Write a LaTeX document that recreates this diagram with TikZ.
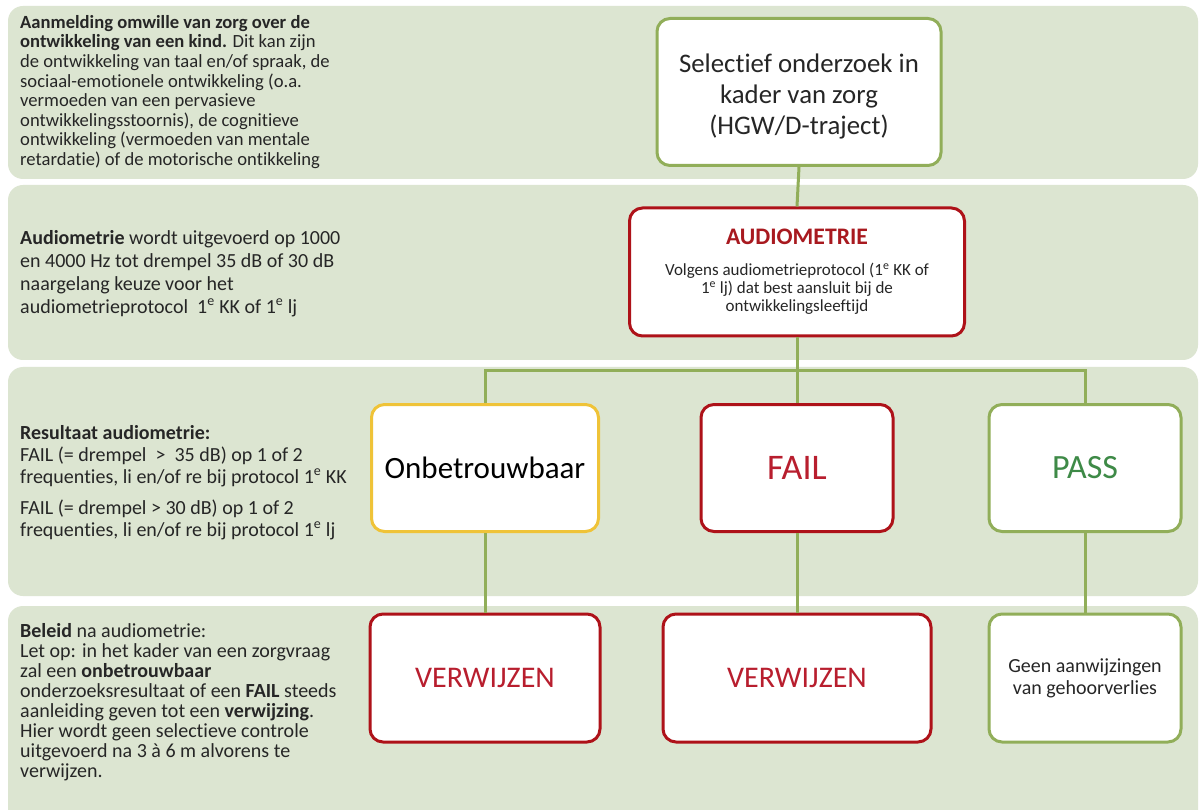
\documentclass[tikz,border=0pt]{standalone}
\usepackage{fontspec}
\setmainfont{Carlito}[Ligatures=NoCommon]
\definecolor{bandfill}{HTML}{DCE5D1}
\definecolor{olive}{HTML}{91AE59}
\definecolor{boxred}{HTML}{AE1219}
\definecolor{boxyellow}{HTML}{EFC338}
\definecolor{titlered}{HTML}{A8191F}
\definecolor{failred}{HTML}{B81E2E}
\definecolor{passgreen}{HTML}{3E8A47}
\definecolor{bodytext}{HTML}{262626}
\tikzset{
  band/.style={fill=bandfill, draw=none, rounded corners=15pt},
  note/.style={anchor=north west, align=left, inner sep=0pt, text=bodytext},
  stepbox/.style={draw, line width=3pt, fill=white, rounded corners=13pt,
                  align=center, inner sep=0pt, text=bodytext},
  greenbox/.style={stepbox, draw=olive},
  redbox/.style={stepbox, draw=boxred},
  yellowbox/.style={stepbox, draw=boxyellow},
  boxtext/.style={align=center, inner sep=0pt, text=bodytext},
  link/.style={draw=olive, line width=3pt},
}
\newcommand{\ordsup}{\textsuperscript{e}}
\begin{document}
\begin{tikzpicture}[x=1pt, y=-1pt]
\useasboundingbox (0,0) rectangle (1200,810);
\fill[white] (0,0) rectangle (1200,810);

% background bands
\path[band] (8,6) rectangle (1198,179);
\path[band] (8,185) rectangle (1198,360);
\path[band] (8,367) rectangle (1198,596);
\path[band] (8,606) rectangle (1198,830);

% explanatory texts on the left
\node[note, font=\fontsize{18.6}{19.6}\selectfont] (t1) at (20,15)
  {\textbf{Aanmelding omwille van zorg over de}\\
   \textbf{ontwikkeling van een kind.} Dit kan zijn\\
   de ontwikkeling van taal en/of spraak, de\\
   sociaal-emotionele ontwikkeling (o.a.\\
   vermoeden van een pervasieve\\
   ontwikkelingsstoornis), de cognitieve\\
   ontwikkeling (vermoeden van mentale\\
   retardatie) of de motorische ontikkeling};

\node[note, font=\fontsize{20}{23}\selectfont] (t2) at (20,230)
  {\textbf{Audiometrie} wordt uitgevoerd op 1000\\
   en 4000 Hz tot drempel 35 dB of 30 dB\\
   naargelang keuze voor het\\
   audiometrieprotocol\ \ 1\ordsup\ KK of 1\ordsup\ lj};

\node[note, font=\fontsize{20}{22}\selectfont] (t3) at (20,425)
  {\textbf{Resultaat audiometrie:}\\
   FAIL (= drempel\ \ >\ \ 35 dB) op 1 of 2\\
   frequenties, li en/of re bij protocol\ 1\ordsup\ KK\\[9pt]
   FAIL (= drempel > 30 dB) op 1 of 2\\
   frequenties, li en/of re bij protocol\ 1\ordsup\ lj};

\node[note, font=\fontsize{20}{20.1}\selectfont] (t4) at (20,623)
  {\textbf{Beleid} na audiometrie:\\
   Let op: in het kader van een zorgvraag\\
   zal een \textbf{onbetrouwbaar}\\
   onderzoeksresultaat of een \textbf{FAIL} steeds\\
   aanleiding geven tot een \textbf{verwijzing}.\\
   Hier wordt geen selectieve controle\\
   uitgevoerd na 3 à 6 m alvorens te\\
   verwijzen.};

% flow boxes
\node[greenbox, minimum width=284pt, minimum height=147pt] (sel) at (799,92) {};
\node[boxtext, font=\fontsize{26.8}{31}\selectfont] (seltext) at (799,96)
  {Selectief onderzoek in\\ kader van zorg\\ (HGW/D-traject)};

\node[redbox, minimum width=335pt, minimum height=128pt,
      font=\fontsize{17}{18}\selectfont] (aud) at (797,272)
  {\textcolor{titlered}{\fontsize{23.7}{26}\selectfont\bfseries AUDIOMETRIE}\\[13pt]
   Volgens audiometrieprotocol (1\ordsup\ KK of\\
   1\ordsup\ lj) dat best aansluit bij de\\ ontwikkelingsleeftijd};

\node[yellowbox, minimum width=227pt, minimum height=127pt,
      font=\fontsize{31}{34}\selectfont, text=black] (onb) at (485,468) {Onbetrouwbaar};
\node[redbox, minimum width=192pt, minimum height=127pt,
      font=\fontsize{36}{38}\selectfont, text=failred] (fail) at (797,468) {FAIL};
\node[greenbox, minimum width=192pt, minimum height=127pt,
      font=\fontsize{34}{38}\selectfont, text=passgreen] (pass) at (1085,468) {PASS};

\node[redbox, minimum width=230pt, minimum height=128pt,
      font=\fontsize{30}{32}\selectfont, text=failred] (v1) at (485,678) {VERWIJZEN};
\node[redbox, minimum width=268pt, minimum height=128pt,
      font=\fontsize{30}{32}\selectfont, text=failred] (v2) at (797,678) {VERWIJZEN};
\node[greenbox, minimum width=192pt, minimum height=128pt,
      font=\fontsize{20}{22}\selectfont] (geen) at (1085,678)
  {Geen aanwijzingen\\ van gehoorverlies};

% connectors
\coordinate (hub) at (797,371);
\draw[link] (sel.south) -- (aud.north);
\draw[link] (aud.south) -- (hub);
\draw[link] (onb.north) |- (hub) -| (pass.north);
\draw[link] (hub) -- (fail.north);
\draw[link] (onb.south) -- (v1.north);
\draw[link] (fail.south) -- (v2.north);
\draw[link] (pass.south) -- (geen.north);
\end{tikzpicture}
\end{document}
